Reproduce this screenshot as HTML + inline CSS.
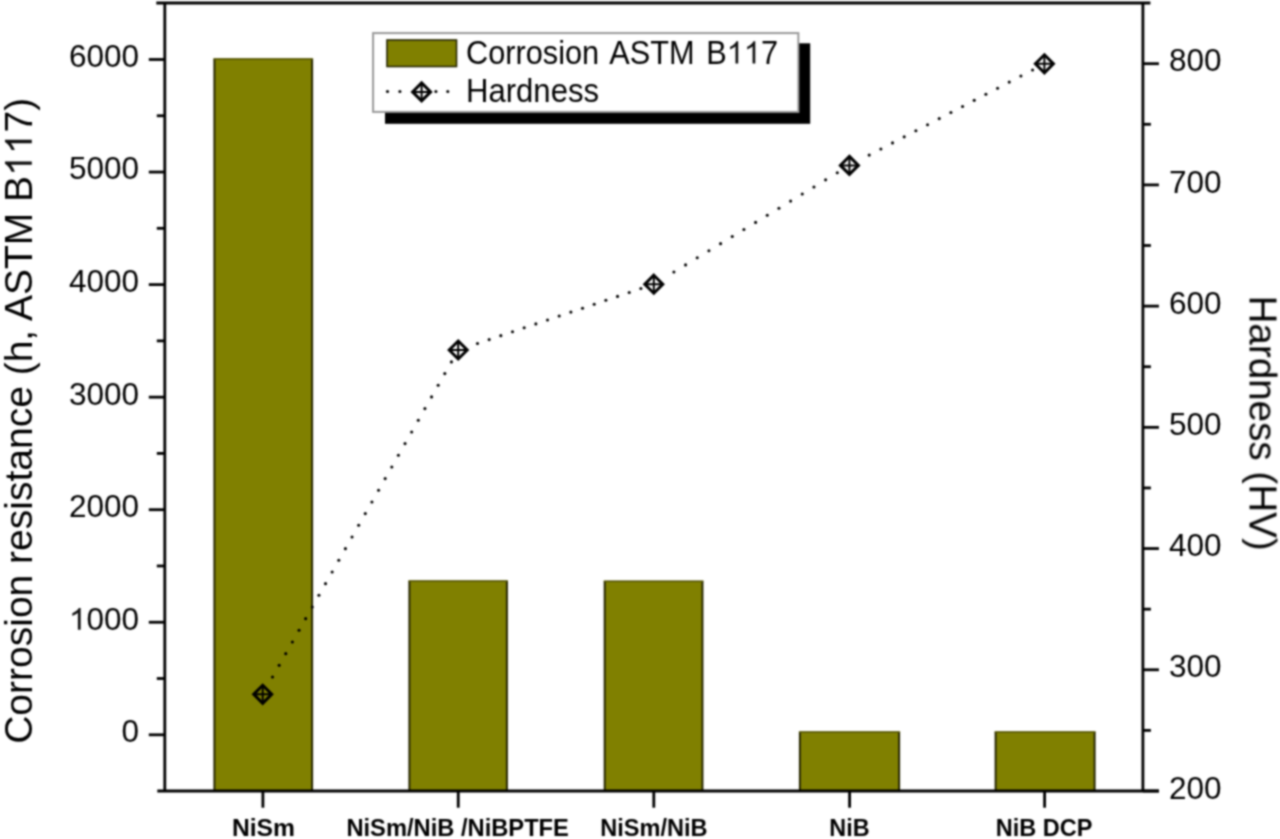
<!DOCTYPE html>
<html><head><meta charset="utf-8"><style>
html,body{margin:0;padding:0;background:#fff;width:1280px;height:839px;overflow:hidden}
svg{display:block}
</style></head><body>
<svg width="1280" height="839" viewBox="0 0 1280 839">
<defs><filter id="bl" x="0" y="0" width="1280" height="839" filterUnits="userSpaceOnUse" color-interpolation-filters="sRGB"><feConvolveMatrix order="5" kernelMatrix="0.00142 0.00904 0.01675 0.00904 0.00142 0.00904 0.05757 0.10673 0.05757 0.00904 0.01675 0.10673 0.19786 0.10673 0.01675 0.00904 0.05757 0.10673 0.05757 0.00904 0.00142 0.00904 0.01675 0.00904 0.00142" divisor="1" edgeMode="duplicate"/></filter></defs>
<rect width="1280" height="839" fill="#fff"/>
<g filter="url(#bl)">
<rect x="214.10" y="58.60" width="98.30" height="732.70" fill="#808000"/>
<path d="M214.40 791.0 V58.90 M312.10 58.90 V791.0" stroke="#262600" stroke-width="2.0" fill="none"/>
<path d="M213.40 58.90 H313.10" stroke="#505000" stroke-width="1.5" fill="none"/>
<rect x="409.10" y="580.80" width="98.10" height="210.50" fill="#808000"/>
<path d="M409.40 791.0 V581.10 M506.90 581.10 V791.0" stroke="#262600" stroke-width="2.0" fill="none"/>
<path d="M408.40 581.10 H507.90" stroke="#505000" stroke-width="1.5" fill="none"/>
<rect x="604.40" y="580.90" width="98.35" height="210.40" fill="#808000"/>
<path d="M604.70 791.0 V581.20 M702.45 581.20 V791.0" stroke="#262600" stroke-width="2.0" fill="none"/>
<path d="M603.70 581.20 H703.45" stroke="#505000" stroke-width="1.5" fill="none"/>
<rect x="799.60" y="731.70" width="99.80" height="59.60" fill="#808000"/>
<path d="M799.90 791.0 V732.00 M899.10 732.00 V791.0" stroke="#262600" stroke-width="2.0" fill="none"/>
<path d="M798.90 732.00 H900.10" stroke="#505000" stroke-width="1.5" fill="none"/>
<rect x="995.30" y="731.70" width="99.60" height="59.60" fill="#808000"/>
<path d="M995.60 791.0 V732.00 M1094.60 732.00 V791.0" stroke="#262600" stroke-width="2.0" fill="none"/>
<path d="M994.60 732.00 H1095.60" stroke="#505000" stroke-width="1.5" fill="none"/>
<g stroke="#000" stroke-width="2.8" fill="none" stroke-linecap="butt">
<path d="M156.3 3.0 H1150.4 M164.8 1.6 V792.4 M1142.9 1.6 V792.4 M157.3 791.0 H1158.9"/>
<path d="M148.8 734.80 H164.8"/>
<path d="M148.8 622.25 H164.8"/>
<path d="M148.8 509.70 H164.8"/>
<path d="M148.8 397.15 H164.8"/>
<path d="M148.8 284.60 H164.8"/>
<path d="M148.8 172.05 H164.8"/>
<path d="M148.8 59.50 H164.8"/>
<path d="M156.8 678.52 H164.8"/>
<path d="M156.8 565.97 H164.8"/>
<path d="M156.8 453.42 H164.8"/>
<path d="M156.8 340.87 H164.8"/>
<path d="M156.8 228.32 H164.8"/>
<path d="M156.8 115.77 H164.8"/>
<path d="M1142.9 791.00 H1158.9"/>
<path d="M1142.9 669.78 H1158.9"/>
<path d="M1142.9 548.56 H1158.9"/>
<path d="M1142.9 427.34 H1158.9"/>
<path d="M1142.9 306.12 H1158.9"/>
<path d="M1142.9 184.90 H1158.9"/>
<path d="M1142.9 63.68 H1158.9"/>
<path d="M1142.9 730.39 H1150.9"/>
<path d="M1142.9 609.17 H1150.9"/>
<path d="M1142.9 487.95 H1150.9"/>
<path d="M1142.9 366.73 H1150.9"/>
<path d="M1142.9 245.51 H1150.9"/>
<path d="M1142.9 124.29 H1150.9"/>
<path d="M262.90 791.0 V807.7"/>
<path d="M458.25 791.0 V807.7"/>
<path d="M653.80 791.0 V807.7"/>
<path d="M849.60 791.0 V807.7"/>
<path d="M1044.60 791.0 V807.7"/>
</g>
<g fill="#000"><circle cx="272.52" cy="677.00" r="1.55"/><circle cx="279.15" cy="665.33" r="1.55"/><circle cx="285.78" cy="653.66" r="1.55"/><circle cx="292.40" cy="641.99" r="1.55"/><circle cx="299.03" cy="630.32" r="1.55"/><circle cx="305.66" cy="618.65" r="1.55"/><circle cx="312.28" cy="606.98" r="1.55"/><circle cx="318.91" cy="595.31" r="1.55"/><circle cx="325.53" cy="583.64" r="1.55"/><circle cx="332.16" cy="571.97" r="1.55"/><circle cx="338.79" cy="560.30" r="1.55"/><circle cx="345.41" cy="548.63" r="1.55"/><circle cx="352.04" cy="536.96" r="1.55"/><circle cx="358.67" cy="525.29" r="1.55"/><circle cx="365.29" cy="513.62" r="1.55"/><circle cx="371.92" cy="501.95" r="1.55"/><circle cx="378.55" cy="490.28" r="1.55"/><circle cx="385.17" cy="478.61" r="1.55"/><circle cx="391.80" cy="466.94" r="1.55"/><circle cx="398.43" cy="455.27" r="1.55"/><circle cx="405.05" cy="443.60" r="1.55"/><circle cx="411.68" cy="431.93" r="1.55"/><circle cx="418.31" cy="420.26" r="1.55"/><circle cx="424.93" cy="408.59" r="1.55"/><circle cx="431.56" cy="396.92" r="1.55"/><circle cx="438.18" cy="385.25" r="1.55"/><circle cx="444.81" cy="373.58" r="1.55"/><circle cx="451.44" cy="361.91" r="1.55"/><circle cx="477.50" cy="343.51" r="1.55"/><circle cx="489.17" cy="339.58" r="1.55"/><circle cx="500.84" cy="335.66" r="1.55"/><circle cx="512.51" cy="331.73" r="1.55"/><circle cx="524.18" cy="327.80" r="1.55"/><circle cx="535.85" cy="323.88" r="1.55"/><circle cx="547.52" cy="319.95" r="1.55"/><circle cx="559.19" cy="316.03" r="1.55"/><circle cx="570.86" cy="312.10" r="1.55"/><circle cx="582.53" cy="308.18" r="1.55"/><circle cx="594.20" cy="304.25" r="1.55"/><circle cx="605.87" cy="300.32" r="1.55"/><circle cx="617.54" cy="296.40" r="1.55"/><circle cx="629.21" cy="292.47" r="1.55"/><circle cx="640.88" cy="288.55" r="1.55"/><circle cx="673.90" cy="271.99" r="1.55"/><circle cx="685.57" cy="264.90" r="1.55"/><circle cx="697.24" cy="257.82" r="1.55"/><circle cx="708.91" cy="250.73" r="1.55"/><circle cx="720.58" cy="243.64" r="1.55"/><circle cx="732.25" cy="236.55" r="1.55"/><circle cx="743.92" cy="229.46" r="1.55"/><circle cx="755.59" cy="222.38" r="1.55"/><circle cx="767.26" cy="215.29" r="1.55"/><circle cx="778.93" cy="208.20" r="1.55"/><circle cx="790.60" cy="201.11" r="1.55"/><circle cx="802.27" cy="194.02" r="1.55"/><circle cx="813.94" cy="186.94" r="1.55"/><circle cx="825.61" cy="179.85" r="1.55"/><circle cx="837.28" cy="172.76" r="1.55"/><circle cx="869.20" cy="155.08" r="1.55"/><circle cx="880.87" cy="149.00" r="1.55"/><circle cx="892.54" cy="142.92" r="1.55"/><circle cx="904.21" cy="136.84" r="1.55"/><circle cx="915.88" cy="130.76" r="1.55"/><circle cx="927.55" cy="124.68" r="1.55"/><circle cx="939.22" cy="118.60" r="1.55"/><circle cx="950.89" cy="112.52" r="1.55"/><circle cx="962.56" cy="106.44" r="1.55"/><circle cx="974.23" cy="100.36" r="1.55"/><circle cx="985.90" cy="94.28" r="1.55"/><circle cx="997.57" cy="88.20" r="1.55"/><circle cx="1009.24" cy="82.12" r="1.55"/><circle cx="1020.91" cy="76.04" r="1.55"/><circle cx="1032.58" cy="69.96" r="1.55"/></g>
<g transform="translate(262.7 694.3)" stroke="#000"><path d="M0 -9.0 L9.0 0 L0 9.0 L-9.0 0 Z" fill="#808000" stroke-width="3.0" stroke-linejoin="miter"/><path d="M0 -9.0 V9.0 M-9.0 0 H9.0" fill="none" stroke-width="2.0"/></g>
<g transform="translate(458.2 350.0)" stroke="#000"><path d="M0 -9.0 L9.0 0 L0 9.0 L-9.0 0 Z" fill="#fff" stroke-width="3.0" stroke-linejoin="miter"/><path d="M0 -9.0 V9.0 M-9.0 0 H9.0" fill="none" stroke-width="2.0"/></g>
<g transform="translate(653.8 284.2)" stroke="#000"><path d="M0 -9.0 L9.0 0 L0 9.0 L-9.0 0 Z" fill="#fff" stroke-width="3.0" stroke-linejoin="miter"/><path d="M0 -9.0 V9.0 M-9.0 0 H9.0" fill="none" stroke-width="2.0"/></g>
<g transform="translate(849.4 165.4)" stroke="#000"><path d="M0 -9.0 L9.0 0 L0 9.0 L-9.0 0 Z" fill="#fff" stroke-width="3.0" stroke-linejoin="miter"/><path d="M0 -9.0 V9.0 M-9.0 0 H9.0" fill="none" stroke-width="2.0"/></g>
<g transform="translate(1044.4 63.8)" stroke="#000"><path d="M0 -9.0 L9.0 0 L0 9.0 L-9.0 0 Z" fill="#fff" stroke-width="3.0" stroke-linejoin="miter"/><path d="M0 -9.0 V9.0 M-9.0 0 H9.0" fill="none" stroke-width="2.0"/></g>
<g font-family="Liberation Sans, sans-serif" font-size="31.5" fill="#000">
<text x="139" y="742.20" text-anchor="end">0</text>
<text id="f1000" x="139" y="629.65" text-anchor="end"> 000</text>
<text x="139" y="517.10" text-anchor="end">2000</text>
<text x="139" y="404.55" text-anchor="end">3000</text>
<text x="139" y="292.00" text-anchor="end">4000</text>
<text x="139" y="179.45" text-anchor="end">5000</text>
<text x="139" y="66.90" text-anchor="end">6000</text>
<text x="1169" y="798.60">200</text>
<text x="1169" y="677.38">300</text>
<text x="1169" y="556.16">400</text>
<text x="1169" y="434.94">500</text>
<text x="1169" y="313.72">600</text>
<text x="1169" y="192.50">700</text>
<text x="1169" y="71.28">800</text>
</g>
<g font-family="Liberation Sans, sans-serif" font-size="23" font-weight="bold" fill="#000" text-anchor="middle">
<text x="263.45" y="835.7" textLength="63.1" lengthAdjust="spacingAndGlyphs">NiSm</text>
<text x="457.65" y="835.7" textLength="222.5" lengthAdjust="spacingAndGlyphs">NiSm/NiB /NiBPTFE</text>
<text x="653.90" y="835.7" textLength="107.3" lengthAdjust="spacingAndGlyphs">NiSm/NiB</text>
<text x="849.40" y="835.7" textLength="40.3" lengthAdjust="spacingAndGlyphs">NiB</text>
<text x="1044.05" y="835.7" textLength="96.7" lengthAdjust="spacingAndGlyphs">NiB DCP</text>
</g>
<text transform="translate(31.8 743.8) rotate(-90)" font-family="Liberation Sans, sans-serif" font-size="39" fill="#000" id="fy">Corrosion resistance (h, ASTM B  7)</text>
<text transform="translate(1249.5 295.6) rotate(90)" font-family="Liberation Sans, sans-serif" font-size="38.6" fill="#000">Hardness (HV)</text>
<rect x="385" y="43.3" width="425.2" height="80.5" fill="#000"/>
<rect x="373.1" y="33.1" width="425.25" height="78.8" fill="#fff" stroke="#999" stroke-width="2"/>
<rect x="387" y="40" width="69.5" height="26.5" fill="#808000" stroke="#262600" stroke-width="1.6"/>
<g fill="#000"><circle cx="387.5" cy="91.5" r="1.55"/><circle cx="399.9" cy="91.5" r="1.55"/><circle cx="435.9" cy="91.5" r="1.55"/><circle cx="447.8" cy="91.5" r="1.55"/></g>
<g transform="translate(421.6 91.9)" stroke="#000"><path d="M0 -9.0 L9.0 0 L0 9.0 L-9.0 0 Z" fill="#fff" stroke-width="3.0" stroke-linejoin="miter"/><path d="M0 -9.0 V9.0 M-9.0 0 H9.0" fill="none" stroke-width="2.0"/></g>
<g font-family="Liberation Sans, sans-serif" font-size="32.4" fill="#000" word-spacing="3.4">
<text x="466" y="63.6" textLength="312" lengthAdjust="spacingAndGlyphs" id="fl">Corrosion ASTM B  7</text>
<text x="466" y="101.5" textLength="133" lengthAdjust="spacingAndGlyphs">Hardness</text>
</g>
<path fill="#111" transform=" translate(68.92 629.65) scale(0.01539 -0.01538)" d="M763 0 L583 0 L583 1100 Q518 1040 412 980 Q306 920 222 890 L222 1060 Q373 1130 486 1225 Q599 1320 646 1409 L763 1409 Z"/>
<path fill="#111" transform="translate(31.8 743.8) rotate(-90) translate(567.86 0.00) scale(0.01905 -0.01904)" d="M763 0 L583 0 L583 1100 Q518 1040 412 980 Q306 920 222 890 L222 1060 Q373 1130 486 1225 Q599 1320 646 1409 L763 1409 Z"/>
<path fill="#111" transform="translate(31.8 743.8) rotate(-90) translate(589.55 0.00) scale(0.01905 -0.01904)" d="M763 0 L583 0 L583 1100 Q518 1040 412 980 Q306 920 222 890 L222 1060 Q373 1130 486 1225 Q599 1320 646 1409 L763 1409 Z"/>
<path fill="#111" transform=" translate(726.75 63.60) scale(0.01501 -0.01582)" d="M763 0 L583 0 L583 1100 Q518 1040 412 980 Q306 920 222 890 L222 1060 Q373 1130 486 1225 Q599 1320 646 1409 L763 1409 Z"/>
<path fill="#111" transform=" translate(743.84 63.60) scale(0.01500 -0.01582)" d="M763 0 L583 0 L583 1100 Q518 1040 412 980 Q306 920 222 890 L222 1060 Q373 1130 486 1225 Q599 1320 646 1409 L763 1409 Z"/>

</g>
</svg>
</body></html>
